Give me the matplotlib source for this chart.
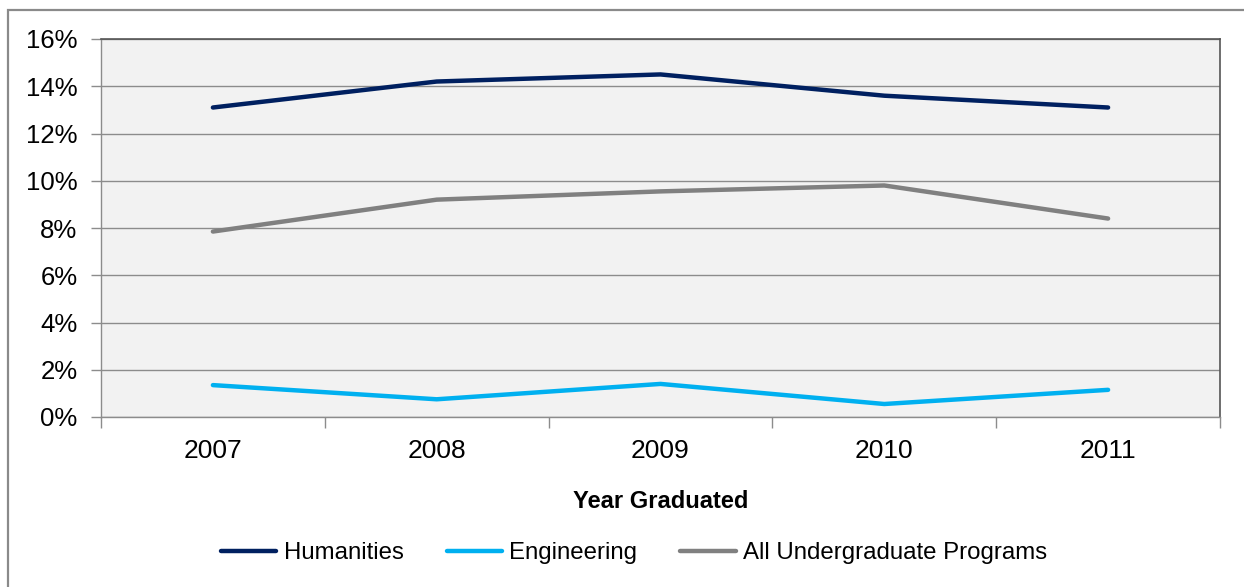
import matplotlib
matplotlib.use("Agg")
import matplotlib.pyplot as plt
from matplotlib.patches import Rectangle
from matplotlib.ticker import FuncFormatter, FixedLocator

years = ["2007", "2008", "2009", "2010", "2011"]
humanities = [13.1, 14.2, 14.5, 13.6, 13.1]
engineering = [1.35, 0.75, 1.4, 0.55, 1.15]
all_programs = [7.85, 9.2, 9.55, 9.8, 8.4]

series_names = ["Humanities", "Engineering", "All Undergraduate Programs"]
series_colors = ["#002060", "#00B0F0", "#808080"]

plt.rcParams["font.family"] = ["Liberation Sans", "DejaVu Sans"]

W, H = 1244, 587
fig = plt.figure(figsize=(W / 100, H / 100), dpi=100)
fig.patch.set_facecolor("white")

# outer chart frame
fig.patches.append(Rectangle((8 / W, -0.05), 1.2, 1 - 10 / H + 0.05,
                             transform=fig.transFigure, fill=False,
                             edgecolor="#8a8a8a", linewidth=1.6))

ax = fig.add_axes([101 / W, 1 - 417 / H, (1220 - 101) / W, (417 - 39) / H])
ax.set_facecolor("#F2F2F2")

x = list(range(len(years)))
for vals, name, col in zip([humanities, engineering, all_programs],
                           series_names, series_colors):
    ax.plot(x, vals, color=col, linewidth=3.2, label=name,
            solid_capstyle="round", solid_joinstyle="round", zorder=3)

ax.set_xlim(-0.5, len(years) - 0.5)
ax.set_ylim(0, 16)
ax.set_yticks(range(0, 17, 2))
ax.yaxis.set_major_formatter(FuncFormatter(lambda v, p: f"{int(v)}%"))
ax.yaxis.grid(True, color="#8c8c8c", linewidth=1.0)
ax.set_axisbelow(True)

ax.set_xticks(x)
ax.set_xticklabels(years)
ax.xaxis.set_minor_locator(FixedLocator([i - 0.5 for i in range(len(years) + 1)]))
ax.tick_params(axis="x", which="major", length=0, pad=16, labelsize=19)
ax.tick_params(axis="x", which="minor", length=8, width=1, color="#8c8c8c",
               direction="out")
ax.tick_params(axis="y", length=7, width=1, color="#8c8c8c", pad=10,
               labelsize=18.5)

for side in ["left", "bottom"]:
    ax.spines[side].set_color("#8c8c8c")
    ax.spines[side].set_linewidth(1.0)
for side in ["top", "right"]:
    ax.spines[side].set_color("#555555")
    ax.spines[side].set_linewidth(1.2)

ax.set_xlabel("Year Graduated", fontsize=17, fontweight="bold", labelpad=19)

handles, labels = ax.get_legend_handles_labels()
fig.legend(handles, labels, loc="center", bbox_to_anchor=(634 / W, 1 - 553 / H),
           ncol=3, frameon=False, fontsize=17.3, handlelength=2.3,
           handletextpad=0.3, columnspacing=1.8)

fig.savefig("out.png", dpi=100, facecolor="white")
